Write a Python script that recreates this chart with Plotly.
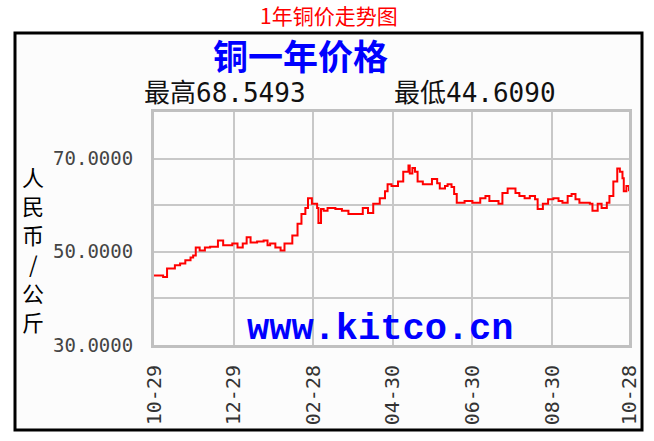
import plotly.graph_objects as go

# ---- data (day offset from 10-29, price in CNY/kg) ----
days = [0, 7, 10, 14, 16, 20, 24, 28, 30, 32, 35, 39, 43, 49, 53, 60, 64, 68, 71, 74,
        79, 84, 87, 89, 93, 97, 100, 106, 110, 113, 116, 118, 121, 125, 126, 128, 130, 133, 139, 144,
        149, 156, 160, 164, 168, 173, 177, 179, 182, 187, 191, 195, 196, 198, 200, 202, 206, 210, 213, 217,
        219, 223, 225, 228, 230, 232, 238, 244, 250, 254, 257, 261, 264, 267, 271, 273, 277, 280, 284, 288,
        292, 294, 298, 302, 306, 310, 313, 317, 320, 323, 326, 330, 334, 336, 340, 343, 347, 349, 352, 355,
        357, 359, 360, 362, 364]
prices = [44.9, 44.6, 46.4, 46.4, 47.1, 47.5, 48.2, 48.8, 49.2, 50.9, 50.3, 50.9, 51.1, 52.4, 51.4, 51.8, 50.9, 51.8, 53.1, 52.0,
          52.2, 52.4, 51.4, 51.8, 50.9, 50.3, 51.8, 53.5, 56.0, 58.1, 59.4, 61.5, 60.3, 59.4, 56.2, 59.2, 58.8, 59.4, 59.2, 58.8,
          58.1, 58.1, 59.4, 58.3, 60.3, 61.5, 63.0, 64.5, 64.1, 65.1, 67.2, 68.5, 66.8, 68.0, 67.2, 65.1, 64.5, 64.5, 65.6, 64.7,
          63.6, 64.1, 64.5, 63.9, 62.4, 60.5, 60.9, 60.5, 61.5, 62.0, 60.9, 60.9, 60.3, 62.6, 63.6, 63.6, 62.6, 62.0, 61.5, 62.0,
          61.3, 59.2, 60.3, 61.3, 61.5, 60.9, 60.5, 62.0, 62.4, 61.3, 60.5, 60.5, 60.3, 58.8, 60.3, 59.4, 60.5, 62.0, 65.1, 67.9,
          67.2, 65.8, 63.0, 64.1, 63.0]

x_tick_days = [0, 61, 122, 183, 244, 305, 364]
x_tick_labels = ["10-29", "12-29", "02-28", "04-30", "06-30", "08-30", "10-28"]
y_tick_vals = [30, 40, 50, 60, 70, 80]
y_tick_labels = ["30.0000", "", "50.0000", "", "70.0000", ""]

title_text = "1年铜价走势图"
chart_title = "铜一年价格"
high_text = "最高68.5493"
low_text = "最低44.6090"
y_title = "人民币/公斤"
watermark = "www.kitco.cn"

# ---- layout geometry (pixels) ----
W, H = 654, 441
L, R, T, B = 154, 629, 112, 345


def px(x):
    return (x - L) / (R - L)


def py(y):
    return (B - y) / (B - T)


mono = "DejaVu Sans Mono, Liberation Mono, monospace"
cjk = "Noto Sans CJK SC, sans-serif"

fig = go.Figure()
fig.add_trace(go.Scatter(x=days, y=prices, mode="lines", line=dict(color="#ff0000", width=2, shape="hv"),
                         hoverinfo="skip", showlegend=False))

fig.update_layout(
    width=W, height=H,
    margin=dict(l=L, r=W - R, t=T, b=H - B, pad=0),
    paper_bgcolor="#ffffff",
    plot_bgcolor="#fcfcfc",
    showlegend=False,
    xaxis=dict(range=[0, 364], tickvals=x_tick_days, ticktext=x_tick_labels, tickangle=-90,
               showgrid=True, gridcolor="#c8c8c8", gridwidth=2, zeroline=False,
               showline=True, linecolor="#c0c0c0", linewidth=3, mirror=True,
               ticks="outside", ticklen=9, tickcolor="rgba(0,0,0,0)",
               tickfont=dict(family=mono, size=20, color="#333333")),
    yaxis=dict(range=[30, 80], tickvals=y_tick_vals, ticktext=y_tick_labels,
               showgrid=True, gridcolor="#c8c8c8", gridwidth=2, zeroline=False,
               showline=True, linecolor="#c0c0c0", linewidth=3, mirror=True,
               ticks="outside", ticklen=14, tickcolor="rgba(0,0,0,0)",
               tickfont=dict(family=mono, size=19, color="#444444")),
    shapes=[dict(type="rect", xref="paper", yref="paper", layer="below",
                 x0=px(15), x1=px(642), y0=py(430), y1=py(33),
                 line=dict(color="#000000", width=3), fillcolor="#fcfcfc")],
)

fig.add_annotation(text=title_text, xref="paper", yref="paper", x=px(329), y=py(15),
                   xanchor="center", yanchor="middle", showarrow=False, borderpad=0,
                   font=dict(family=cjk, size=21, color="#ff0000"))
fig.add_annotation(text="<b>" + chart_title + "</b>", xref="paper", yref="paper", x=px(300), y=py(54),
                   xanchor="center", yanchor="middle", showarrow=False, borderpad=0,
                   font=dict(family=cjk, size=35, color="#0000ff"))
fig.add_annotation(text=high_text, xref="paper", yref="paper", x=px(225), y=py(93),
                   xanchor="center", yanchor="middle", showarrow=False,
                   font=dict(family=mono + ", " + cjk, size=26, color="#111111"))
fig.add_annotation(text=low_text, xref="paper", yref="paper", x=px(475), y=py(93),
                   xanchor="center", yanchor="middle", showarrow=False,
                   font=dict(family=mono + ", " + cjk, size=26, color="#111111"))
char_y = [176, 205, 234, 263, 292, 321]
for ch, cy in zip(y_title, char_y):
    fig.add_annotation(text=ch, xref="paper", yref="paper", x=px(33), y=py(cy),
                       xanchor="center", yanchor="middle", showarrow=False, borderpad=0,
                       font=dict(family=cjk, size=22, color="#000000"))
fig.add_annotation(text="<b>" + watermark + "</b>", xref="paper", yref="paper", x=px(380), y=py(329),
                   xanchor="center", yanchor="middle", showarrow=False,
                   font=dict(family="Liberation Mono, DejaVu Sans Mono, monospace", size=37, color="#0000ff"))

fig.write_html("out.html", config={"displayModeBar": False},
               post_script="document.body.style.margin='0px';")
